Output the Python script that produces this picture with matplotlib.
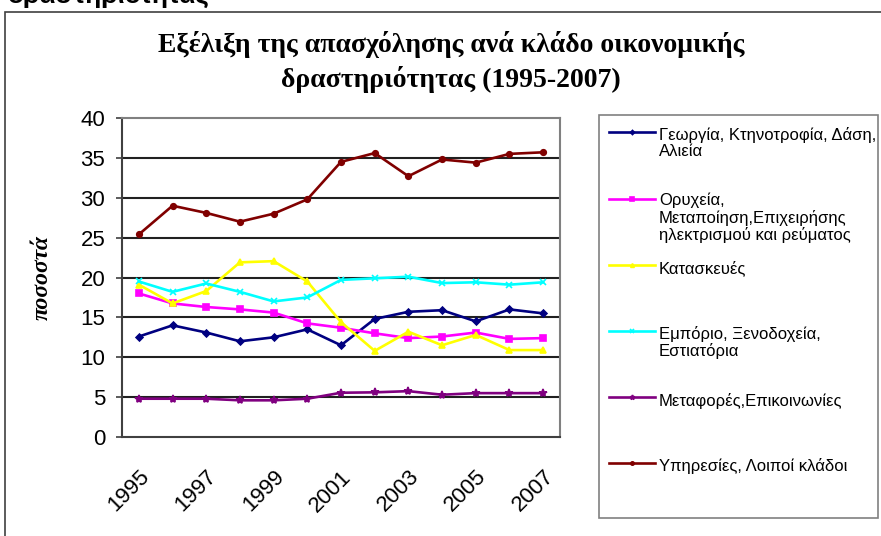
import matplotlib.pyplot as plt
from matplotlib.patches import Rectangle
from matplotlib.legend_handler import HandlerLine2D

years = list(range(1995, 2008))
tick_labels = ["1995", "1997", "1999", "2001", "2003", "2005", "2007"]

agri = [12.6, 14.0, 13.1, 12.0, 12.5, 13.5, 11.5, 14.8, 15.7, 15.9, 14.5, 16.0, 15.5]
industry = [18.0, 16.75, 16.3, 16.0, 15.6, 14.25, 13.7, 13.0, 12.4, 12.6, 13.1, 12.3, 12.4]
construction = [19.1, 16.75, 18.3, 21.9, 22.05, 19.5, 14.4, 10.8, 13.2, 11.5, 12.8, 10.9, 10.9]
trade = [19.5, 18.2, 19.25, 18.2, 17.0, 17.5, 19.7, 19.9, 20.1, 19.3, 19.4, 19.1, 19.4]
transport = [4.8, 4.8, 4.8, 4.6, 4.6, 4.8, 5.55, 5.6, 5.75, 5.3, 5.5, 5.5, 5.5]
services = [25.4, 29.0, 28.1, 27.0, 28.0, 29.8, 34.5, 35.6, 32.7, 34.8, 34.4, 35.5, 35.7]

names = ["Γεωργία, Κτηνοτροφία, Δάση,\nΑλιεία",
         "Ορυχεία,\nΜεταποίηση,Επιχειρήσης\nηλεκτρισμού και ρεύματος",
         "Κατασκευές",
         "Εμπόριο, Ξενοδοχεία,\nΕστιατόρια",
         "Μεταφορές,Επικοινωνίες",
         "Υπηρεσίες, Λοιποί κλάδοι"]
series = [agri, industry, construction, trade, transport, services]
colors = ["#000080", "#FF00FF", "#FFFF00", "#00FFFF", "#800080", "#800000"]
markers = ["D", "s", "^", "x", "*", "o"]
msizes = [3.5, 4.5, 4.5, 5, 6, 4]


# legend handle sits next to the first line of a 3-line label
class FirstLineHandler(HandlerLine2D):
    def __init__(self, shift, **kw):
        super().__init__(**kw)
        self.shift = shift

    def create_artists(self, legend, orig_handle, xdescent, ydescent,
                       width, height, fontsize, trans):
        return super().create_artists(legend, orig_handle, xdescent,
                                      ydescent - 2 * self.shift, width, height,
                                      fontsize, trans)


fig = plt.figure(figsize=(8.81, 5.36), dpi=100)
fig.patches.append(Rectangle((5/881, -0.1), 1.1, 1 - 12/536 + 0.1, transform=fig.transFigure,
                             fill=False, edgecolor="#404040", lw=1.2))
fig.text(8/881, 1 - 3/536, "δραστηριότητας", fontsize=19, weight="bold",
         family="Liberation Sans", va="baseline", ha="left")

ax = fig.add_axes([122/881, 1 - 437/536, (560 - 122)/881, (437 - 118)/536])
x = list(range(len(years)))
lines = []
for vals, name, c, m, ms in zip(series, names, colors, markers, msizes):
    lab = name + "\n" * (2 - name.count("\n"))
    ln, = ax.plot(x, vals, color=c, lw=1.9, marker=m, markersize=ms, label=lab,
                  markeredgewidth=1.2)
    lines.append(ln)

ax.set_xlim(-0.5, len(years) - 0.5)
ax.set_ylim(0, 40)
ax.set_yticks(range(0, 45, 5))
ax.set_xticks(range(0, len(years), 2))
ax.set_xticklabels(tick_labels, rotation=45, ha="right", rotation_mode="anchor")
for y in range(5, 40, 5):
    ax.axhline(y, color="#202020", lw=1.5, zorder=0)
ax.tick_params(axis="y", labelsize=16, length=4, width=1.2, color="#404040", pad=8)
ax.tick_params(axis="x", labelsize=16, length=0, pad=21)
for lab in ax.get_xticklabels() + ax.get_yticklabels():
    lab.set_family("Liberation Sans")
for side in ["left", "bottom"]:
    ax.spines[side].set_color("#404040")
    ax.spines[side].set_linewidth(1.5)
for side in ["top", "right"]:
    ax.spines[side].set_color("#808080")
    ax.spines[side].set_linewidth(1.5)

ax.set_ylabel("ποσοστά", fontsize=17, family="Liberation Serif", weight="bold",
              style="italic", labelpad=20)

fig.text(0.512, 1 - 62/536, "Εξέλιξη της απασχόλησης ανά κλάδο οικονομικής\nδραστηριότητας (1995-2007)",
         ha="center", va="center", fontsize=20, weight="bold", family="Liberation Serif",
         linespacing=1.38)

# legend box
fig.patches.append(Rectangle((599/881, 1 - 518/536), (878 - 599)/881, (518 - 115)/536,
                             transform=fig.transFigure, fill=False, edgecolor="#808080", lw=1.2))
leg = ax.legend(handles=lines, loc="upper left", bbox_to_anchor=(609/881, 1 - 127/536),
                bbox_transform=fig.transFigure, prop={"family": "Liberation Sans", "size": 12},
                frameon=False, handlelength=2.75, handletextpad=0.25,
                labelspacing=1.04, borderpad=0, borderaxespad=0, markerscale=0.6,
                handler_map={ln: FirstLineHandler(14) for ln in lines})
for t in leg.get_texts():
    t.set_linespacing(1.1)

fig.savefig("out.png", dpi=100)
